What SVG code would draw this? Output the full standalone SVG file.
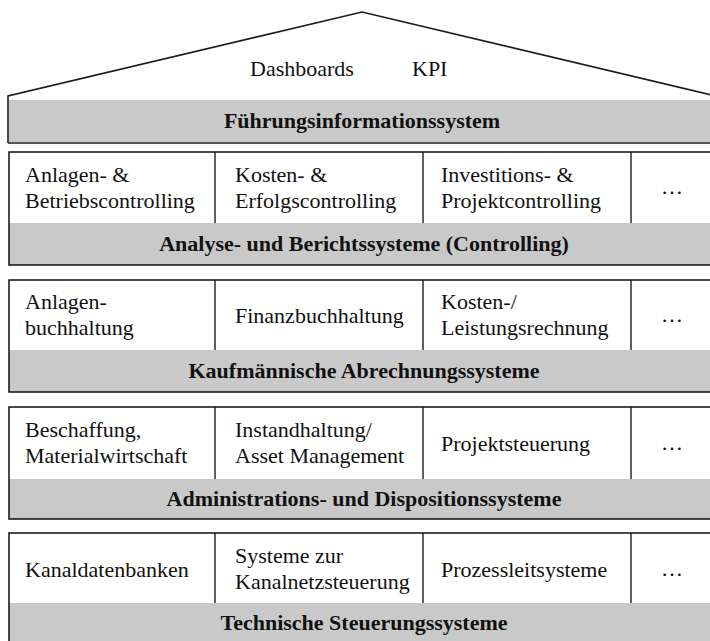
<svg xmlns="http://www.w3.org/2000/svg" width="710" height="641" viewBox="0 0 710 641">
  <style>
    .frame { fill: none; stroke: #1c1c1c; stroke-width: 1.6; }
    .band { fill: #c9c9c9; stroke: none; }
    .div { stroke: #1c1c1c; stroke-width: 1.4; }
    .t { font-family: "Liberation Serif", "Times New Roman", serif; font-size: 22px; fill: #111; }
    .h { font-family: "Liberation Serif", "Times New Roman", serif; font-size: 22px; font-weight: bold; fill: #111; text-anchor: middle; }
    .dots { font-family: "Liberation Serif", "Times New Roman", serif; font-size: 22px; fill: #111; text-anchor: middle; }
  </style>
  <rect width="710" height="641" fill="#ffffff"/>

  <!-- Top layer: roof with management information system -->
  <g id="fuehrungsinformationssystem">
    <rect class="band" x="9" y="100" width="707" height="42"/>
    <polyline class="frame" points="8,143 8,96 362,12 716,96"/>
    <line class="div" x1="8" y1="143" x2="716" y2="143"/>
    <text class="t" x="250" y="76">Dashboards</text>
    <text class="t" x="412" y="76">KPI</text>
    <text class="h" x="362" y="128">Führungsinformationssystem</text>
  </g>

  <!-- Layer: analysis and reporting -->
  <g id="analyse-berichtssysteme">
    <rect class="band" x="9" y="223" width="707" height="42"/>
    <rect class="frame" x="9" y="152" width="707" height="113"/>
    <line class="div" x1="215" y1="152" x2="215" y2="223"/>
    <line class="div" x1="423" y1="152" x2="423" y2="223"/>
    <line class="div" x1="631" y1="152" x2="631" y2="223"/>
    <text class="t" x="25" y="182">Anlagen- &amp;</text>
    <text class="t" x="25" y="208">Betriebscontrolling</text>
    <text class="t" x="235" y="182">Kosten- &amp;</text>
    <text class="t" x="235" y="208">Erfolgscontrolling</text>
    <text class="t" x="441" y="182">Investitions- &amp;</text>
    <text class="t" x="441" y="208">Projektcontrolling</text>
    <text class="dots" x="672" y="194">…</text>
    <text class="h" x="364" y="251">Analyse- und Berichtssysteme (Controlling)</text>
  </g>

  <!-- Layer: commercial accounting -->
  <g id="abrechnungssysteme">
    <rect class="band" x="9" y="350" width="707" height="42"/>
    <rect class="frame" x="9" y="280" width="707" height="112"/>
    <line class="div" x1="215" y1="280" x2="215" y2="350"/>
    <line class="div" x1="423" y1="280" x2="423" y2="350"/>
    <line class="div" x1="631" y1="280" x2="631" y2="350"/>
    <text class="t" x="25" y="309">Anlagen-</text>
    <text class="t" x="25" y="335">buchhaltung</text>
    <text class="t" x="235" y="323">Finanzbuchhaltung</text>
    <text class="t" x="441" y="309">Kosten-/</text>
    <text class="t" x="441" y="335">Leistungsrechnung</text>
    <text class="dots" x="672" y="322">…</text>
    <text class="h" x="364" y="378">Kaufmännische Abrechnungssysteme</text>
  </g>

  <!-- Layer: administration and scheduling -->
  <g id="dispositionssysteme">
    <rect class="band" x="9" y="479" width="707" height="40"/>
    <rect class="frame" x="9" y="407" width="707" height="112"/>
    <line class="div" x1="215" y1="407" x2="215" y2="479"/>
    <line class="div" x1="423" y1="407" x2="423" y2="479"/>
    <line class="div" x1="631" y1="407" x2="631" y2="479"/>
    <text class="t" x="25" y="437">Beschaffung,</text>
    <text class="t" x="25" y="463">Materialwirtschaft</text>
    <text class="t" x="235" y="437">Instandhaltung/</text>
    <text class="t" x="235" y="463">Asset Management</text>
    <text class="t" x="441" y="451">Projektsteuerung</text>
    <text class="dots" x="672" y="450">…</text>
    <text class="h" x="364" y="506">Administrations- und Dispositionssysteme</text>
  </g>

  <!-- Layer: technical control -->
  <g id="steuerungssysteme">
    <rect class="band" x="9" y="603" width="707" height="42"/>
    <rect class="frame" x="9" y="533" width="707" height="112"/>
    <line class="div" x1="215" y1="533" x2="215" y2="603"/>
    <line class="div" x1="423" y1="533" x2="423" y2="603"/>
    <line class="div" x1="631" y1="533" x2="631" y2="603"/>
    <text class="t" x="25" y="577">Kanaldatenbanken</text>
    <text class="t" x="235" y="563">Systeme zur</text>
    <text class="t" x="235" y="589">Kanalnetzsteuerung</text>
    <text class="t" x="441" y="577">Prozessleitsysteme</text>
    <text class="dots" x="672" y="576">…</text>
    <text class="h" x="364" y="630">Technische Steuerungssysteme</text>
  </g>
</svg>
